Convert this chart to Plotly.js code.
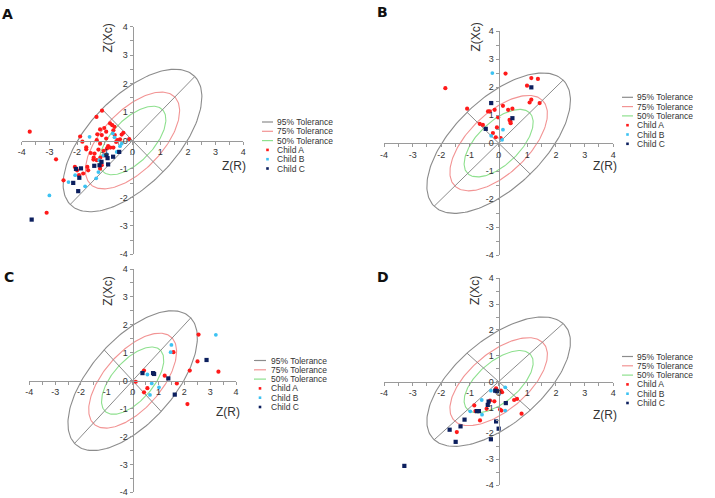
<!DOCTYPE html>
<html>
<head>
<meta charset="utf-8">
<script src="https://cdn.plot.ly/plotly-3.0.1.min.js"></script>
<style>html,body{margin:0;padding:0;background:#fff;}#chart{width:715px;height:498px;}</style>
</head>
<body>
<div id="chart"></div>
<script>
// ---------- data ----------
var panelLetters = ["A", "B", "C", "D"];
var seriesNames = ["Child A", "Child B", "Child C"];
var toleranceNames = ["95% Tolerance", "75% Tolerance", "50% Tolerance"];
var toleranceSemiMajor = [3.18, 2.16, 1.53];
var toleranceSemiMinor = [1.56, 1.06, 0.75];
var tickVals = [-4,-3.5,-3,-2.5,-2,-1.5,-1,-0.5,0,0.5,1,1.5,2,2.5,3,3.5,4];
var tickText = ["-4","","-3","","-2","","-1","","0","","1","","2","","3","","4"];
var xTitle = "Z(R)";
var yTitle = "Z(Xc)";

// Panel A
var aChildAX = [-3.71,-2.76,-2.49,-3.10,-1.30,-1.10,-1.89,-1.81,-1.67,-1.67,-1.51,-1.27,-1.17,-1.02,-0.95,-0.81,-0.73,-0.65,-0.69,-0.95,-1.11,-1.29,-1.17,-1.23,-1.37,-1.41,-1.29,-1.16,-1.04,-0.92,-0.88,-0.80,-0.69,-0.59,-0.55,-0.64,-0.33,-0.39,-0.12,-0.45,-2.08,-2.00,-1.93,-1.78,-1.63,-1.60,-1.40,-1.11,-1.17,-1.04];
var aChildAY = [0.31,-0.66,-1.40,-2.54,0.83,1.05,0.14,-0.04,-0.24,-0.31,-0.44,0.22,0.39,0.44,0.31,0.60,0.54,0.48,0.36,0.07,0.19,0.01,-0.11,-0.32,-0.46,-0.67,-0.69,-0.60,-0.36,-0.28,-0.20,-0.25,-0.25,-0.05,0.01,0.19,0.27,0.21,0.05,0.04,-0.93,-1.05,-1.22,-1.16,-0.93,-1.05,-0.60,-0.87,-0.99,-0.52];
var aChildBX = [-3.00,-2.31,-2.07,-1.71,-1.55,-1.31,-1.20,-1.05,-0.71,-0.65,-0.57,-0.45,-0.39,-1.23,-0.93];
var aChildBY = [-1.93,-1.46,-1.22,-1.61,0.13,-1.33,-0.69,-0.52,0.25,0.11,-0.40,-0.20,-0.11,-1.11,-0.48];
var aChildCX = [-3.64,-1.96,-2.14,-2.04,-1.86,-1.92,-1.38,-1.12,-0.88,-0.70,-0.48,-0.94,-1.19,-0.90];
var aChildCY = [-2.78,-1.78,-1.49,-1.00,-0.98,-1.31,-0.89,-0.75,-0.84,-0.57,-0.40,-0.52,-0.87,-0.62];

// Panel B
var bChildAX = [-1.86,0.24,1.14,1.37,0.99,1.14,1.08,1.43,-1.10,-0.37,-0.31,-0.14,0.15,0.33,0.48,-0.02,0.38,0.41,0.42,-0.66,-0.55,-0.06,-0.20,-0.10,0.07];
var bChildAY = [1.96,2.48,2.32,2.29,2.05,1.55,1.45,1.43,1.23,1.13,1.13,1.19,1.33,1.19,1.23,0.92,0.83,0.77,0.71,0.69,0.65,0.56,0.36,0.21,0.18];
var bChildBX = [-0.22,0.15,-0.26,0.12];
var bChildBY = [2.50,0.48,0.26,0.12];
var bChildCX = [1.14,-0.26,0.48,-0.45];
var bChildCY = [1.99,1.43,0.89,0.51];

// Panel C
var cChildAX = [2.55,2.51,2.21,3.32,1.58,1.24,1.71,2.12,0.44,0.12,0.57,0.44];
var cChildAY = [1.65,0.69,0.36,0.32,1.02,0.18,-0.10,-0.84,0.36,-0.04,-0.27,-0.42];
var cChildBX = [3.22,1.50,1.47,0.57,0.74,1.02,0.67];
var cChildBY = [1.64,1.28,1.02,0.22,-0.10,-0.24,-0.51];
var cChildCX = [2.86,0.38,0.79,0.83,1.38,1.63];
var cChildCY = [0.74,0.27,0.27,0.24,0.08,-0.50];

// Panel D
var dChildAX = [-1.46,-0.65,-0.85,-0.81,-0.42,-0.30,-0.15,-0.09,0.08,0.12,0.05,0.10,0.54,0.64,0.80];
var dChildAY = [-1.95,-1.50,-0.92,-1.14,-1.05,-0.73,-0.76,-0.26,-0.35,-0.41,-1.08,-1.12,-0.71,-0.67,-1.24];
var dChildBX = [0.23,-0.59,-0.99,-0.58,0.23,-0.27];
var dChildBY = [-0.22,-0.71,-1.15,-1.28,-1.12,-0.35];
var dChildCX = [-3.29,-1.50,-1.71,-1.33,-1.19,-0.27,0.00,-0.09,0.25,-0.76,-0.69,-0.38,-0.35,-0.12,-0.06];
var dChildCY = [-3.26,-2.33,-1.86,-1.73,-1.47,-2.23,-1.82,-1.54,-0.83,-1.14,-1.14,-0.90,-0.77,-0.35,-0.37];

// ---------- styles & layout positions ----------
var W = 715, H = 498;
var toleranceColors = ["#8c8c8c", "#f29494", "#8ee08e"];
var childColors = ["#ff1a1a", "#3cc2f2", "#0c1f5e"];
var childSymbols = ["circle", "circle", "square"];
var childSizes = [4.2, 3.8, 4.2];
var axisColor = "#9a9a9a";
var textColor = "#333333";
var baseFont = "Liberation Sans, Arial, sans-serif";

// pixel boxes for the -4..4 range of each panel
var panels = [
  {xs: [aChildAX, aChildBX, aChildCX], ys: [aChildAY, aChildBY, aChildCY],
   px: [21.7, 243.3], py: [26.7, 254.3], letter: [7.5, 13.5], yt: [108, 38.5], xt: [234.3, 165.5],
   leg: {lx: [262, 273], tx: 276, y0: 122, dy: 9.3}},
  {xs: [bChildAX, bChildBX, bChildCX], ys: [bChildAY, bChildBY, bChildCY],
   px: [384, 613.3], py: [31, 255.3], letter: [382.5, 12.5], yt: [475.5, 37], xt: [605, 165.5],
   leg: {lx: [622, 633], tx: 636, y0: 97.3, dy: 9.3}},
  {xs: [cChildAX, cChildBX, cChildCX], ys: [cChildAY, cChildBY, cChildCY],
   px: [29.3, 236], py: [269, 492.3], letter: [9, 277], yt: [108, 291.7], xt: [228.3, 411.7],
   leg: {lx: [254, 266], tx: 270, y0: 360.5, dy: 9.3}},
  {xs: [dChildAX, dChildBX, dChildCX], ys: [dChildAY, dChildBY, dChildCY],
   px: [384, 613.3], py: [278.3, 485], letter: [383, 276.5], yt: [475, 291], xt: [605, 415],
   leg: {lx: [622, 633], tx: 636, y0: 356.5, dy: 9.3}}
];

function fx(p) { return p / W; }
function fy(p) { return 1 - p / H; }

function ellipsePath(a, b) {
  var xs = [], ys = [], c = Math.SQRT1_2;
  for (var i = 0; i <= 180; i++) {
    var t = 2 * Math.PI * i / 180;
    var u = a * Math.cos(t), v = b * Math.sin(t);
    xs.push(c * (u - v)); ys.push(c * (u + v));
  }
  return {x: xs, y: ys};
}

var traces = [];
var layout = {
  width: W, height: H, autosize: false,
  margin: {l: 0, r: 0, t: 0, b: 0, pad: 0},
  paper_bgcolor: "#ffffff", plot_bgcolor: "rgba(0,0,0,0)",
  showlegend: false,
  font: {family: baseFont, color: textColor, size: 9},
  annotations: [], shapes: []
};

panels.forEach(function (p, k) {
  var sfx = k === 0 ? "" : String(k + 1);
  var xa = "x" + sfx, ya = "y" + sfx;
  var xdom = [fx(p.px[0]), fx(p.px[1])];
  var ydom = [fy(p.py[1]), fy(p.py[0])];
  var common = {
    range: [-4, 4], anchor: "free", showgrid: false, zeroline: false,
    showline: true, linecolor: axisColor, linewidth: 1,
    ticks: "outside", ticklen: 3, tickwidth: 1, tickcolor: axisColor,
    tickmode: "array", tickvals: tickVals, ticktext: tickText,
    tickfont: {family: baseFont, size: 9, color: textColor},
    fixedrange: true
  };
  layout["xaxis" + sfx] = Object.assign({}, common, {domain: xdom, position: (ydom[0] + ydom[1]) / 2});
  layout["yaxis" + sfx] = Object.assign({}, common, {domain: ydom, position: (xdom[0] + xdom[1]) / 2});

  // tolerance ellipses
  for (var e = 0; e < toleranceSemiMajor.length; e++) {
    var el = ellipsePath(toleranceSemiMajor[e], toleranceSemiMinor[e]);
    traces.push({type: "scatter", mode: "lines", x: el.x, y: el.y, xaxis: xa, yaxis: ya,
      line: {color: toleranceColors[e], width: 1.1}, hoverinfo: "skip", name: toleranceNames[e]});
  }
  // major and minor axes of the 95% ellipse
  var ma = toleranceSemiMajor[0] * Math.SQRT1_2, mi = toleranceSemiMinor[0] * Math.SQRT1_2;
  traces.push({type: "scatter", mode: "lines", x: [-ma, ma], y: [-ma, ma], xaxis: xa, yaxis: ya,
    line: {color: toleranceColors[0], width: 1}, hoverinfo: "skip"});
  traces.push({type: "scatter", mode: "lines", x: [-mi, mi], y: [mi, -mi], xaxis: xa, yaxis: ya,
    line: {color: toleranceColors[0], width: 1}, hoverinfo: "skip"});

  // children points
  for (var c = 0; c < 3; c++) {
    traces.push({type: "scatter", mode: "markers", x: p.xs[c], y: p.ys[c], xaxis: xa, yaxis: ya,
      name: seriesNames[c], cliponaxis: false,
      marker: {color: childColors[c], size: childSizes[c], symbol: childSymbols[c], line: {width: 0}}});
  }

  // panel letter
  layout.annotations.push({xref: "paper", yref: "paper", x: fx(p.letter[0]), y: fy(p.letter[1]),
    xanchor: "center", yanchor: "middle", showarrow: false, text: "<b>" + panelLetters[k] + "</b>",
    font: {family: "DejaVu Sans, sans-serif", size: 14, color: "#111111"}});
  // axis titles
  layout.annotations.push({xref: "paper", yref: "paper", x: fx(p.yt[0]), y: fy(p.yt[1]),
    xanchor: "center", yanchor: "middle", showarrow: false, text: yTitle, textangle: -90,
    font: {family: baseFont, size: 12, color: textColor}});
  layout.annotations.push({xref: "paper", yref: "paper", x: fx(p.xt[0]), y: fy(p.xt[1]),
    xanchor: "center", yanchor: "middle", showarrow: false, text: xTitle,
    font: {family: baseFont, size: 12, color: textColor}});

  // legend (drawn manually for compact spacing)
  var labels = toleranceNames.concat(seriesNames);
  for (var i = 0; i < labels.length; i++) {
    var yy = p.leg.y0 + i * p.leg.dy;
    if (i < 3) {
      layout.shapes.push({type: "line", xref: "paper", yref: "paper",
        x0: fx(p.leg.lx[0]), x1: fx(p.leg.lx[1]), y0: fy(yy), y1: fy(yy),
        line: {color: toleranceColors[i], width: 1.2}});
    } else {
      var cx = (p.leg.lx[0] + p.leg.lx[1]) / 2;
      layout.shapes.push({type: "rect", xref: "paper", yref: "paper",
        x0: fx(cx - 1.3), x1: fx(cx + 1.3), y0: fy(yy + 1.3), y1: fy(yy - 1.3),
        line: {width: 0}, fillcolor: childColors[i - 3]});
    }
    layout.annotations.push({xref: "paper", yref: "paper", x: fx(p.leg.tx), y: fy(yy),
      xanchor: "left", yanchor: "middle", showarrow: false, text: labels[i], borderpad: 0,
      font: {family: baseFont, size: 8.5, color: textColor}});
  }
});

Plotly.newPlot("chart", traces, layout, {staticPlot: true, displayModeBar: false});
</script>
</body>
</html>
